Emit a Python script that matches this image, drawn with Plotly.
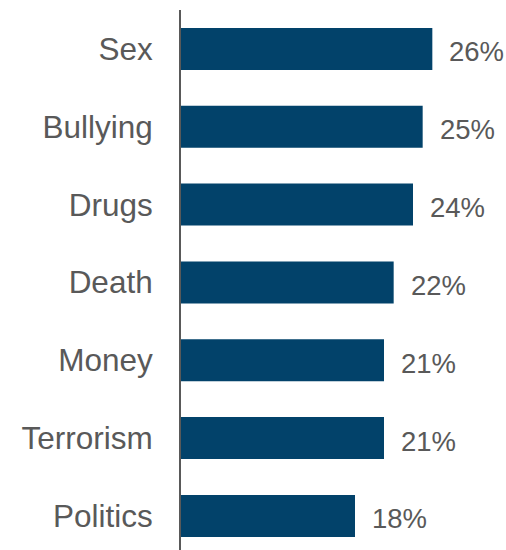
import plotly.graph_objects as go

categories = ["Sex", "Bullying", "Drugs", "Death", "Money", "Terrorism", "Politics"]
values = [26, 25, 24, 22, 21, 21, 18]
value_labels = ["26%", "25%", "24%", "22%", "21%", "21%", "18%"]

BAR = "#02426A"
TXT = "#595959"
FONT = "Liberation Sans, Arial, sans-serif"

fig = go.Figure(
    go.Bar(
        x=values,
        y=categories,
        orientation="h",
        marker=dict(color=BAR, line=dict(width=0)),
        hoverinfo="skip",
    )
)

for c, v, t in zip(categories, values, value_labels):
    fig.add_annotation(
        x=v, y=c, text=t, showarrow=False, xanchor="left", yanchor="middle",
        xshift=15, yshift=-3, font=dict(family=FONT, size=27.5, color=TXT),
    )

fig.update_layout(
    width=506, height=550,
    margin=dict(l=181, r=35, t=10, b=0),
    plot_bgcolor="white", paper_bgcolor="white",
    bargap=0.46,
    showlegend=False,
    xaxis=dict(range=[0, 30], visible=False, fixedrange=True),
    yaxis=dict(
        categoryorder="array", categoryarray=categories,
        range=[6.438, -0.5],
        showline=True, linecolor="#595959", linewidth=2,
        showgrid=False, zeroline=False, ticks="", ticklabelstandoff=20,
        tickfont=dict(family=FONT, size=31.5, color=TXT),
        fixedrange=True,
    ),
)

fig.write_html(
    "out.html",
    config={"displayModeBar": False},
    post_script="document.body.style.margin='0';document.body.style.padding='0';",
)
